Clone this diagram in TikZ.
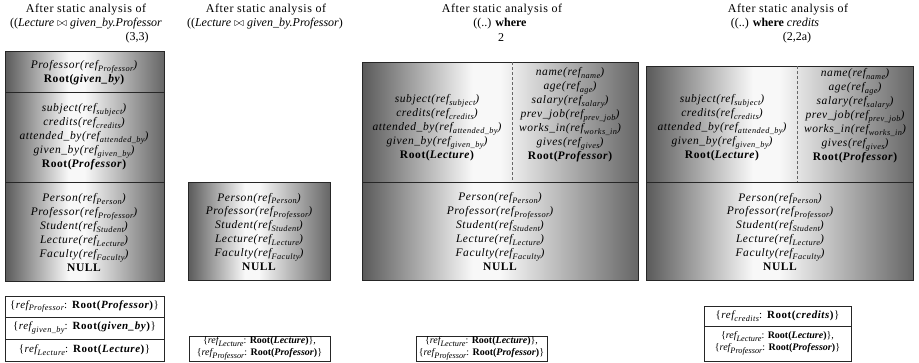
\documentclass[tikz,border=0pt]{standalone}
\usepackage{fontspec}
\setmainfont{Liberation Serif}[LetterSpace=5]
\newfontfamily\plainrm{Liberation Serif}
\definecolor{edgeL}{HTML}{5A5A5A}
\definecolor{edgeR}{HTML}{666666}
\definecolor{glow}{HTML}{F8F8F8}
% grey slab: dark at both sides, bright a little left of the middle
\pgfdeclarehorizontalshading{slab}{100bp}{color(0bp)=(edgeL); color(25bp)=(edgeL); color(45bp)=(glow); color(50bp)=(glow); color(75bp)=(edgeR); color(100bp)=(edgeR)}
\newcommand\rf[1]{ref\raisebox{-0.55ex}{\fontsize{8.3}{8.3}\selectfont #1}}
\newcommand\rt[1]{\textbf{\textup{Root(}\textit{#1}\textup{)}}}
\newcommand\nul{\textbf{\textup{NULL}}}
\newcommand\tg[1]{\textup{\{}\textit{\rf{#1}}\textup{:}}
\tikzset{
  ttl/.style={font=\fontsize{12}{14}\selectfont, inner sep=0pt},
  ttlb/.style={font=\plainrm\fontsize{12}{14}\selectfont, inner sep=0pt},
  txt/.style={align=center, font=\fontsize{11.5}{14}\selectfont\itshape, inner sep=0pt},
  tagtxt/.style={align=center, font=\fontsize{11}{12.3}\selectfont, inner sep=0pt},
  tagpair/.style={align=center, font=\plainrm\fontsize{10}{12}\selectfont, inner sep=0pt},
  slabbox/.style={draw=black!85, line width=1pt, shading=slab},
  tag/.style={draw=black!85, fill=white, line width=0.7pt},
  split/.style={draw=black!60, line width=0.9pt, dash pattern=on 3pt off 2pt}
}
\begin{document}
\begin{tikzpicture}[x=1pt,y=-1pt]
\useasboundingbox[fill=white] (0,0) rectangle (919,362);

% ---------- column 1 ----------
\node[ttl] (t1a) at (86,10) {After static analysis of};
\node[ttlb] (t1b) at (86,24) {((\textit{Lecture} $\bowtie$ \textit{given\_by.Professor}};
\node[ttlb] (t1c) at (137,38) {(3,3)};
\path[slabbox] (5,51) rectangle (164,92);
\path[slabbox] (5,92) rectangle (164,182);
\path[slabbox] (5,182) rectangle (164,281);
\node[txt] (c1top) at (84,72.5) {Professor(\rf{Professor})\\ \rt{given\_by}};
\node[txt] (c1mid) at (84,137) {subject(\rf{subject})\\ credits(\rf{credits})\\ attended\_by(\rf{attended\_by})\\ given\_by(\rf{given\_by})\\ \rt{Professor}};
\node[txt] (c1bot) at (84,232.5) {Person(\rf{Person})\\ Professor(\rf{Professor})\\ Student(\rf{Student})\\ Lecture(\rf{Lecture})\\ Faculty(\rf{Faculty})\\ \nul};
\draw[tag] (5,296) rectangle (164,317);
\draw[tag] (5,317) rectangle (164,339);
\draw[tag] (5,339) rectangle (164,361);
\node[tagtxt] (g1a) at (84.5,306.5) {\tg{Professor} \rt{Professor}\}};
\node[tagtxt] (g1b) at (84.5,328) {\tg{given\_by} \rt{given\_by}\}};
\node[tagtxt] (g1c) at (84.5,350) {\tg{Lecture} \rt{Lecture}\}};

% ---------- column 2 ----------
\node[ttl] (t2a) at (266,10) {After static analysis of};
\node[ttlb] (t2b) at (265,24) {((\textit{Lecture} $\bowtie$ \textit{given\_by.Professor})};
\path[slabbox] (188,182) rectangle (330,280);
\node[txt] (c2bot) at (259,232) {Person(\rf{Person})\\ Professor(\rf{Professor})\\ Student(\rf{Student})\\ Lecture(\rf{Lecture})\\ Faculty(\rf{Faculty})\\ \nul};
\draw[tag] (189,336) rectangle (330,361);
\node[tagpair] (g2) at (259.5,348.5) {\tg{Lecture} \rt{Lecture}\},\\ \tg{Professor} \rt{Professor}\}};

% ---------- column 3 ----------
\node[ttl] (t3a) at (502,10) {After static analysis of};
\node[ttlb] (t3b) at (500,24) {((..) \textbf{where}};
\node[ttlb] (t3c) at (501,38) {2};
\path[slabbox] (362,62) rectangle (638,182);
\path[slabbox] (362,182) rectangle (638,280);
\draw[split] (512,62) -- (512,182);
\node[txt] (c3l) at (437,128) {subject(\rf{subject})\\ credits(\rf{credits})\\ attended\_by(\rf{attended\_by})\\ given\_by(\rf{given\_by})\\ \rt{Lecture}};
\node[txt] (c3r) at (570,115) {name(\rf{name})\\ age(\rf{age})\\ salary(\rf{salary})\\ prev\_job(\rf{prev\_job})\\ works\_in(\rf{works\_in})\\ gives(\rf{gives})\\ \rt{Professor}};
\node[txt] (c3bot) at (500,231.5) {Person(\rf{Person})\\ Professor(\rf{Professor})\\ Student(\rf{Student})\\ Lecture(\rf{Lecture})\\ Faculty(\rf{Faculty})\\ \nul};
\draw[tag] (416,336) rectangle (547,361);
\node[tagpair] (g3) at (481.5,348.5) {\tg{Lecture} \rt{Lecture}\},\\ \tg{Professor} \rt{Professor}\}};

% ---------- column 4 ----------
\node[ttl] (t4a) at (788,10) {After static analysis of};
\node[ttlb] (t4b) at (775,24) {((..) \textbf{where} \textit{credits}};
\node[ttlb] (t4c) at (797,38) {(2,2a)};
\path[slabbox] (646,66) rectangle (913,182);
\path[slabbox] (646,182) rectangle (913,280);
\draw[split] (797,66) -- (797,182);
\node[txt] (c4l) at (722,128) {subject(\rf{subject})\\ credits(\rf{credits})\\ attended\_by(\rf{attended\_by})\\ given\_by(\rf{given\_by})\\ \rt{Lecture}};
\node[txt] (c4r) at (855,116) {name(\rf{name})\\ age(\rf{age})\\ salary(\rf{salary})\\ prev\_job(\rf{prev\_job})\\ works\_in(\rf{works\_in})\\ gives(\rf{gives})\\ \rt{Professor}};
\node[txt] (c4bot) at (780,232) {Person(\rf{Person})\\ Professor(\rf{Professor})\\ Student(\rf{Student})\\ Lecture(\rf{Lecture})\\ Faculty(\rf{Faculty})\\ \nul};
\draw[tag] (704,306) rectangle (851,326);
\draw[tag] (704,326) rectangle (851,361);
\node[tagtxt] (g4a) at (777.5,316) {\tg{credits} \rt{credits}\}};
\node[tagpair] (g4b) at (777.5,343.5) {\tg{Lecture} \rt{Lecture}\},\\ \tg{Professor} \rt{Professor}\}};
\end{tikzpicture}
\end{document}
